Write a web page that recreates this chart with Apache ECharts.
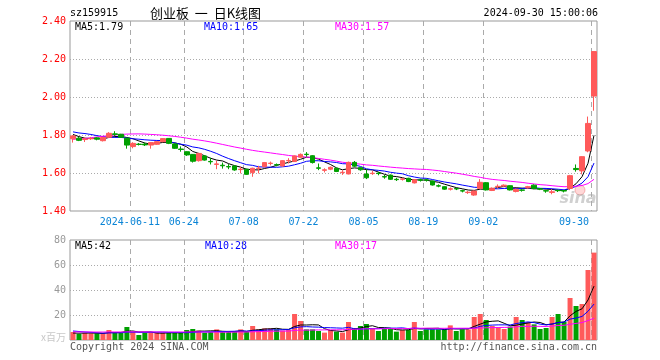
<!DOCTYPE html>
<html><head><meta charset="utf-8">
<script src="https://cdn.jsdelivr.net/npm/echarts@6/dist/echarts.min.js"></script>
<style>html,body{margin:0;padding:0;background:#fff}#c{width:660px;height:360px}</style>
</head><body><div id="c"></div>
<script>
const dates = ['2024-05-27','2024-05-28','2024-05-29','2024-05-30','2024-05-31','2024-06-03','2024-06-04','2024-06-05','2024-06-06','2024-06-07','2024-06-11','2024-06-12','2024-06-13','2024-06-14','2024-06-17','2024-06-18','2024-06-19','2024-06-20','2024-06-21','2024-06-24','2024-06-25','2024-06-26','2024-06-27','2024-06-28','2024-07-01','2024-07-02','2024-07-03','2024-07-04','2024-07-05','2024-07-08','2024-07-09','2024-07-10','2024-07-11','2024-07-12','2024-07-15','2024-07-16','2024-07-17','2024-07-18','2024-07-19','2024-07-22','2024-07-23','2024-07-24','2024-07-25','2024-07-26','2024-07-29','2024-07-30','2024-07-31','2024-08-01','2024-08-02','2024-08-05','2024-08-06','2024-08-07','2024-08-08','2024-08-09','2024-08-12','2024-08-13','2024-08-14','2024-08-15','2024-08-16','2024-08-19','2024-08-20','2024-08-21','2024-08-22','2024-08-23','2024-08-26','2024-08-27','2024-08-28','2024-08-29','2024-08-30','2024-09-02','2024-09-03','2024-09-04','2024-09-05','2024-09-06','2024-09-09','2024-09-10','2024-09-11','2024-09-12','2024-09-13','2024-09-18','2024-09-19','2024-09-20','2024-09-23','2024-09-24','2024-09-25','2024-09-26','2024-09-27','2024-09-30'];

const opens  = [1.780,1.783,1.776,1.780,1.785,1.770,1.788,1.806,1.804,1.783, 1.739,1.752,1.752,1.747,1.751,1.765,1.782,1.753,1.726,1.712, 1.698,1.665,1.690,1.661,1.645,1.641,1.634,1.637,1.618,1.620, 1.602,1.624,1.633,1.650,1.644,1.637,1.664,1.660,1.683,1.699, 1.691,1.627,1.614,1.620,1.625,1.602,1.595,1.656,1.628,1.595, 1.597,1.599,1.581,1.589,1.567,1.567,1.572,1.548,1.564,1.564, 1.558,1.533,1.528,1.515,1.518,1.507,1.497,1.484,1.519,1.549, 1.508,1.528,1.531,1.533,1.503,1.511,1.522,1.536,1.517,1.507, 1.498,1.509,1.508,1.519,1.624,1.611,1.716,2.005];
const closes = [1.795,1.772,1.779,1.782,1.778,1.787,1.809,1.803,1.788,1.747, 1.756,1.750,1.748,1.760,1.765,1.781,1.756,1.730,1.724,1.695, 1.662,1.703,1.668,1.659,1.648,1.638,1.632,1.616,1.620,1.593, 1.625,1.626,1.655,1.652,1.642,1.665,1.666,1.690,1.698,1.697, 1.655,1.625,1.617,1.630,1.608,1.604,1.656,1.636,1.617,1.575, 1.599,1.597,1.579,1.567,1.565,1.569,1.555,1.565,1.562,1.562, 1.537,1.531,1.515,1.517,1.516,1.505,1.499,1.505,1.551,1.511, 1.520,1.530,1.536,1.511,1.515,1.509,1.528,1.519,1.515,1.505, 1.501,1.507,1.505,1.586,1.618,1.686,1.861,2.239];
const lows   = [1.760,1.768,1.763,1.774,1.772,1.766,1.784,1.795,1.785,1.728, 1.730,1.745,1.742,1.728,1.748,1.762,1.752,1.727,1.712,1.690, 1.655,1.660,1.665,1.645,1.620,1.623,1.620,1.612,1.598,1.590, 1.580,1.598,1.630,1.640,1.635,1.634,1.650,1.658,1.680,1.686, 1.650,1.615,1.603,1.615,1.605,1.590,1.593,1.632,1.612,1.568, 1.590,1.588,1.570,1.564,1.558,1.560,1.552,1.545,1.555,1.555, 1.534,1.525,1.512,1.508,1.510,1.498,1.490,1.480,1.515,1.508, 1.505,1.518,1.525,1.508,1.498,1.502,1.518,1.515,1.510,1.496, 1.488,1.500,1.498,1.510,1.607,1.593,1.709,1.928];
const highs  = [1.800,1.790,1.788,1.790,1.788,1.790,1.815,1.820,1.806,1.785, 1.762,1.758,1.760,1.762,1.768,1.784,1.784,1.756,1.740,1.714, 1.700,1.706,1.692,1.680,1.665,1.655,1.647,1.640,1.634,1.622, 1.628,1.638,1.658,1.660,1.650,1.668,1.678,1.692,1.703,1.710, 1.694,1.650,1.625,1.634,1.628,1.615,1.660,1.663,1.630,1.620, 1.612,1.606,1.590,1.592,1.575,1.575,1.575,1.568,1.570,1.570, 1.560,1.540,1.530,1.524,1.522,1.512,1.505,1.508,1.568,1.552, 1.524,1.540,1.540,1.535,1.518,1.515,1.532,1.540,1.520,1.510, 1.515,1.512,1.510,1.590,1.645,1.688,1.897,2.240];
const volumes = [6.4,4.8,5.6,5.3,5.3,5.6,8.0,5.6,5.6,10.4, 6.4,4.0,5.6,5.9,5.9,5.9,5.6,5.6,5.6,8.0, 8.8,7.5,5.9,6.4,8.5,6.4,6.4,6.4,8.5,6.4, 11.2,8.5,9.3,9.3,8.5,7.5,8.0,20.8,15.2,8.5, 8.5,7.2,5.9,8.0,6.7,5.9,14.4,9.6,11.2,12.8, 9.1,7.2,9.1,9.1,6.7,8.0,8.0,14.4,7.2,8.5, 8.5,8.5,8.5,11.7,7.2,8.5,8.5,18.4,20.8,16.0, 11.2,10.1,8.8,10.7,18.4,16.0,14.4,12.5,8.8,9.6, 18.4,20.8,14.4,33.6,27.2,28.8,56.0,69.9];
// estimated 29 sessions before the window (needed for the moving averages at the left edge)
const prevCloses = [1.72,1.70,1.68,1.64,1.68,1.71,1.70,1.70,1.70,1.73,1.74,1.78,1.81,1.82,1.85,1.85,1.83,1.85,1.84,1.83,1.83,1.81,1.83,1.84,1.84,1.83,1.82,1.79,1.78];
const prevVolumes = [6.2,5.8,7.1,6.5,5.9,6.0,5.6,6.4,6.8,6.1,5.7,6.3,5.9,6.6,6.2,5.8,6.0,6.5,6.4,6.2,8.9,9.5,8.2,8.6,9.0,5.5,5.0,5.2,5.8];

const xLabelIdx = [10,19,29,39,49,59,69,87];
const xLabelText = ['2024-06-11','06-24','07-08','07-22','08-05','08-19','09-02','09-30'];
const priceTicks = [1.40,1.60,1.80,2.00,2.20,2.40];
const volTicks = [0,20,40,60,80];
const maLegend = ['MA5:1.79','MA10:1.65','MA30:1.57'];
const volLegend = ['MA5:42','MA10:28','MA30:17'];

const RED = '#ff5a5a', GREEN = '#00a000';
const MONO = 'DejaVu Sans Mono';

function ma(arr, prev, n) {
  const all = prev.concat(arr);
  return arr.map((_, i) => {
    const j = i + prev.length; let s = 0;
    for (let k = j - n + 1; k <= j; k++) s += all[k];
    return +(s / n).toFixed(4);
  });
}

const kData = opens.map((o, i) => [o, closes[i], lows[i], highs[i]]);
const volData = volumes.map((v, i) => ({value: v, itemStyle: {color: closes[i] >= opens[i] ? RED : GREEN}}));

const isLabel = (i) => xLabelIdx.indexOf(i) >= 0;
const vSplit = {show: true, interval: (i) => isLabel(i), showMinLine: true, showMaxLine: false,
  lineStyle: {color: '#aaa', type: [5, 4], width: 1}};
const hSplit = {show: true, showMinLine: false, showMaxLine: false,
  lineStyle: {color: '#aaa', type: [1, 2], width: 1}};

function line(data, color, xi) {
  return {type: 'line', data, xAxisIndex: xi, yAxisIndex: xi, symbol: 'none', smooth: false,
    lineStyle: {color, width: 1}, itemStyle: {color}, z: 3, silent: true};
}

function txt(x, y, text, fill, opt) {
  return Object.assign({type: 'text', x, y, silent: true,
    style: {text, fill, font: '10px "' + MONO + '"', align: 'left', verticalAlign: 'middle'}}, opt || {});
}

const chart = echarts.init(document.getElementById('c'), null, {renderer: 'canvas'});
chart.setOption({
  animation: false,
  backgroundColor: '#fff',
  grid: [
    {left: 70, right: 63, top: 21, height: 190, show: true, borderColor: '#999', borderWidth: 1},
    {left: 70, right: 63, top: 240, height: 100, show: true, borderColor: '#999', borderWidth: 1}
  ],
  xAxis: [
    {type: 'category', data: dates, gridIndex: 0, boundaryGap: true,
      axisLine: {show: false}, axisTick: {show: false},
      axisLabel: {show: true, interval: (i) => isLabel(i), margin: 6,
        formatter: (v, i) => { const k = xLabelIdx.indexOf(i); if (k < 0) return ''; return (k === xLabelIdx.length - 1 ? '{b|' : '{a|') + xLabelText[k] + '}'; },
        rich: {a: {color: '#0a84d6', fontFamily: MONO, fontSize: 10, padding: [0, 6, 0, 0]},
               b: {color: '#0a84d6', fontFamily: MONO, fontSize: 10, padding: [0, 40, 0, 0]}}},
      splitLine: vSplit},
    {type: 'category', data: dates, gridIndex: 1, boundaryGap: true,
      axisLine: {show: false}, axisTick: {show: false}, axisLabel: {show: false},
      splitLine: vSplit}
  ],
  yAxis: [
    {type: 'value', gridIndex: 0, min: priceTicks[0], max: priceTicks[priceTicks.length - 1], interval: 0.2,
      axisLine: {show: false}, axisTick: {show: false},
      axisLabel: {color: '#ff0000', fontFamily: MONO, fontSize: 10, margin: 4, formatter: (v) => v.toFixed(2)},
      splitLine: hSplit},
    {type: 'value', gridIndex: 1, min: volTicks[0], max: volTicks[volTicks.length - 1], interval: 20,
      axisLine: {show: false}, axisTick: {show: false},
      axisLabel: {color: '#999', fontFamily: MONO, fontSize: 10, margin: 4,
        formatter: (v) => v === 0 ? '{u|x百万}' : String(v),
        rich: {u: {color: '#c8c8c8', fontSize: 10, fontFamily: 'Noto Sans CJK SC', padding: [0, 0, 6, 0]}}},
      splitLine: hSplit}
  ],
  series: [
    {type: 'candlestick', data: kData, xAxisIndex: 0, yAxisIndex: 0, barWidth: 5, z: 4, silent: true,
      itemStyle: {color: RED, color0: GREEN, borderColor: RED, borderColor0: GREEN, borderWidth: 1}},
    line(ma(closes, prevCloses, 5), '#000000', 0),
    line(ma(closes, prevCloses, 10), '#0000ff', 0),
    line(ma(closes, prevCloses, 30), '#ff00ff', 0),
    {type: 'bar', data: volData, xAxisIndex: 1, yAxisIndex: 1, barWidth: 5, z: 2, silent: true},
    line(ma(volumes, prevVolumes, 5), '#000000', 1),
    line(ma(volumes, prevVolumes, 10), '#0000ff', 1),
    line(ma(volumes, prevVolumes, 30), '#ff00ff', 1)
  ],
  graphic: [
    txt(70, 13, 'sz159915', '#000'),
    {type: 'text', x: 150, y: 13, silent: true,
      style: {text: '创业板  一  日K线图', fill: '#000', font: '13px "Noto Sans CJK SC"', align: 'left', verticalAlign: 'middle'}},
    txt(598, 13, '2024-09-30 15:00:06', '#000', {style: {text: '2024-09-30 15:00:06', fill: '#000', font: '10px "' + MONO + '"', align: 'right', verticalAlign: 'middle'}}),
    txt(75, 27, maLegend[0], '#000'),
    txt(204, 27, maLegend[1], '#0000ff'),
    txt(335, 27, maLegend[2], '#ff00ff'),
    txt(75, 246, volLegend[0], '#000'),
    txt(205, 246, volLegend[1], '#0000ff'),
    txt(335, 246, volLegend[2], '#ff00ff'),
    txt(70, 347, 'Copyright 2024 SINA.COM', '#555'),
    {type: 'text', x: 597, y: 347, silent: true,
      style: {text: 'http://finance.sina.com.cn', fill: '#555', font: '10px "' + MONO + '"', align: 'right', verticalAlign: 'middle'}},
    {type: 'circle', shape: {cx: 580, cy: 190, r: 5}, silent: true, z: -1,
      style: {fill: 'rgba(255,140,140,0.35)', stroke: 'rgba(230,90,90,0.4)', lineWidth: 1}},
    {type: 'text', x: 578, y: 199, silent: true, z: -1,
      style: {text: 'sina', fill: 'rgba(150,150,150,0.45)', font: 'italic bold 16px "DejaVu Sans"', align: 'center', verticalAlign: 'middle'}}
  ]
});
</script>
</body></html>
